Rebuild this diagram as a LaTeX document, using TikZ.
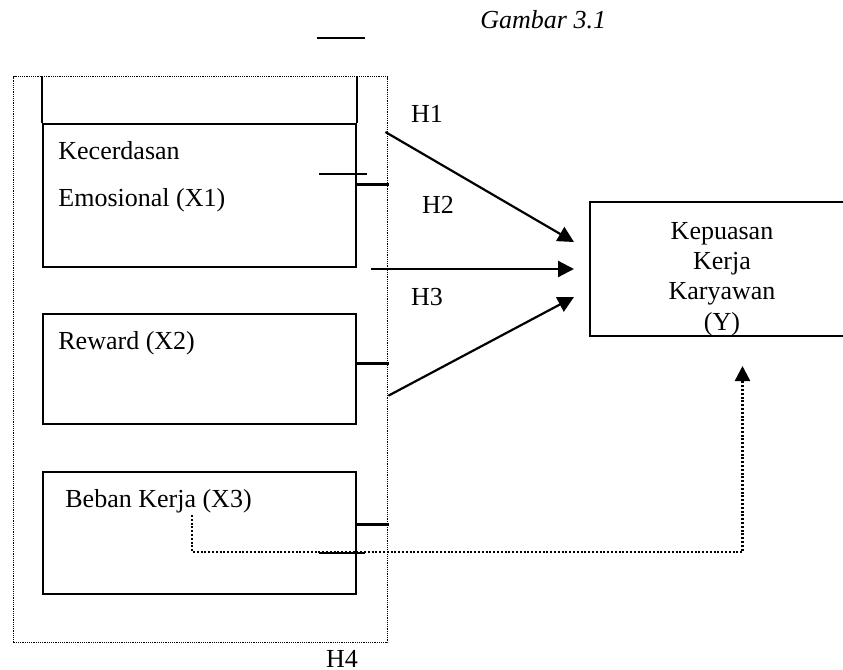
\documentclass[tikz,border=0pt]{standalone}
\usepackage{fontspec}
\setmainfont{Liberation Serif}
\usetikzlibrary{arrows.meta}

\begin{document}
\begin{tikzpicture}[
  x=0.5pt, y=-0.5pt,
  every node/.style={font=\fontsize{13}{15.25}\selectfont, inner sep=0pt},
  varbox/.style={draw, line width=1pt, minimum width=156.5pt, anchor=north west},
  resbox/.style={draw, line width=1pt, minimum width=132.5pt, minimum height=67pt},
  outerdots/.style={draw, line width=0.7pt, dash pattern=on 0.6pt off 0.5pt, minimum width=187pt, minimum height=283pt, anchor=north west},
  stub/.style={line width=1.5pt},
  tick/.style={line width=0.7pt},
  arr/.style={-{Triangle[length=8pt,width=8pt]}, line width=1.1pt},
  darr/.style={-{Triangle[length=7.5pt,width=7.5pt]}, line width=1.2pt, dash pattern=on 1pt off 0.9pt},
  lbl/.style={anchor=base west},
  hyp/.style={anchor=base},
]
\clip (0,0) rectangle (843,670);

% -- title --
\node[lbl, font=\fontsize{13}{15.25}\selectfont\itshape] (title) at (480,28) {Gambar 3.1};
\draw[tick, line width=1pt] (317,38) -- (365,38);

% -- outer dotted frame (H4) --
\node[outerdots] (outer) at (13,76) {};

% -- independent variables --
\node[varbox, minimum height=71.5pt] (x1) at (42,123) {};
\draw[line width=1pt] (x1.north west) -- (x1.north west |- outer.north);
\draw[line width=1pt] (x1.north east) -- (x1.north east |- outer.north);
\node[anchor=west, align=left, font=\fontsize{13}{23.3}\selectfont] (x1txt) at (58,177)
  {Kecerdasan\\Emosional (X1)};

\node[varbox, minimum height=55pt] (x2) at (42,313) {};
\node[lbl] (x2txt) at (58,349) {Reward (X2)};

\node[varbox, minimum height=61pt] (x3) at (42,471) {};
\node[lbl] (x3txt) at (65,507) {Beban Kerja (X3)};

% -- dependent variable --
\node[resbox] (y) at (722.5,269) {};
\node[align=center] (ytxt) at (722,279) {Kepuasan\\Kerja\\Karyawan\\(Y)};

% -- stubs to the frame --
\draw[stub] ([shift={(0,-11)}]x1.east) -- +(32,0);
\draw[stub] ([shift={(0,-6)}]x2.east) -- +(32,0);
\draw[stub] ([shift={(0,-9)}]x3.east) -- +(32,0);
\draw[tick] ([shift={(-38,-21.5)}]x1.east) -- +(48,0);
\draw[tick] ([shift={(-38,20)}]x3.east) -- +(46,0);

% -- hypotheses --
\coordinate (h2s) at ([shift={(14,1)}]x1.south east);
\draw[arr] ([shift={(-3,56)}]outer.north east) -- ([shift={(-15,-27)}]y.west);
\draw[arr] (h2s) -- ([xshift=-7.5pt]h2s -| y.west);
\draw[arr] ([shift={(0,36)}]outer.east) -- ([shift={(-15,28)}]y.west);
\draw[darr] ([shift={(150,44)}]x3.north west) -- ++(0,37) -| ([shift={(20,29)}]y.south);

\node[hyp] (h1) at (427,122) {H1};
\node[hyp] (h2) at (438,213) {H2};
\node[hyp] (h3) at (427,305) {H3};
\node[hyp] (h4) at (342,667) {H4};

\end{tikzpicture}
\end{document}
